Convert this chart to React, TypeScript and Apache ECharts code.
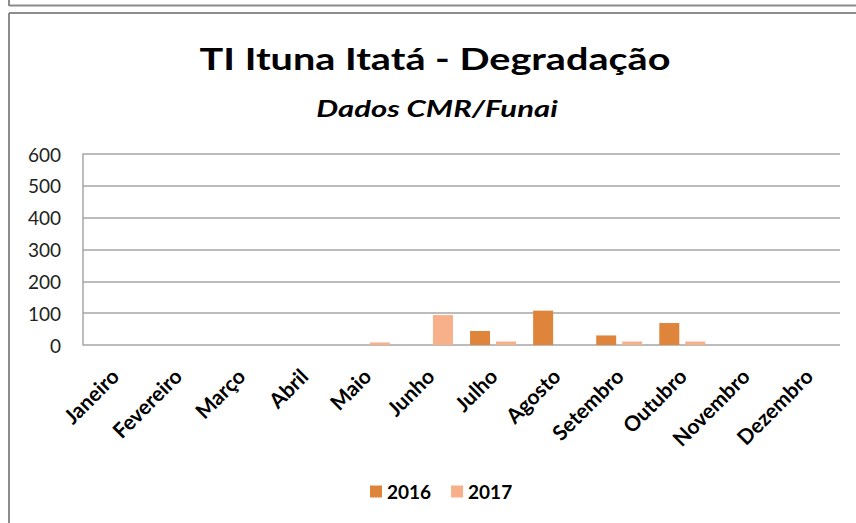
import React, { useEffect, useRef } from "react";
import * as echarts from "echarts";

const months = [
  "Janeiro", "Fevereiro", "Março", "Abril", "Maio", "Junho",
  "Julho", "Agosto", "Setembro", "Outubro", "Novembro", "Dezembro",
];
const series2016: (number | null)[] = [0, 0, 0, 0, 0, 0, 44, 108, 30, 69, 0, 0];
const series2017: (number | null)[] = [0, 0, 0, 0, 8, 94, 11, 0, 11, 11, 0, 0];
const yTicks = { min: 0, max: 600, interval: 100 };
const titleText = "TI Ituna Itatá - Degradação";
const subtitleText = "Dados CMR/Funai";

const FONT = "Lato";

export default function App() {
  const ref = useRef<HTMLDivElement>(null);
  useEffect(() => {
    document.body.style.margin = "0";
    document.body.style.overflow = "hidden";
    if (!ref.current) return;
    const chart = echarts.init(ref.current, null, { renderer: "svg" });
    chart.setOption({
      animation: false,
      backgroundColor: "#ffffff",
      textStyle: { fontFamily: FONT },
      legend: {
        data: ["2016", "2017"],
        bottom: 17,
        left: 365,
        itemWidth: 12,
        itemHeight: 12,
        itemGap: 20,
        icon: "rect",
        textStyle: { fontFamily: FONT, fontSize: 19, fontWeight: "bold", color: "#000" },
      },
      grid: { left: 83, right: 16, top: 154, bottom: 178, containLabel: false },
      xAxis: {
        type: "category",
        data: months,
        axisLine: { show: false },
        axisTick: { show: false },
        axisLabel: {
          rotate: 45,
          interval: 0,
          margin: 27,
          fontFamily: FONT,
          fontSize: 21,
          fontWeight: "bold",
          color: "#000",
        },
      },
      yAxis: {
        type: "value",
        min: yTicks.min,
        max: yTicks.max,
        interval: yTicks.interval,
        axisLine: { show: true, lineStyle: { color: "#a6a6a6", width: 1.5 } },
        axisTick: { show: false },
        splitLine: { lineStyle: { color: "#a6a6a6", width: 1.5 } },
        axisLabel: { margin: 22, fontFamily: FONT, fontSize: 19, color: "#222" },
      },
      series: [
        {
          name: "2016",
          type: "bar",
          data: series2016,
          barWidth: 20,
          barGap: "30%",
          itemStyle: { color: "#DF843B" },
        },
        {
          name: "2017",
          type: "bar",
          data: series2017,
          barWidth: 20,
          itemStyle: { color: "#F8B08A" },
        },
      ],
      graphic: [
        { type: "line", shape: { x1: 9, y1: 5.5, x2: 870, y2: 5.5 }, style: { stroke: "#8c8c8c", lineWidth: 2 } },
        { type: "line", shape: { x1: 9, y1: 0, x2: 9, y2: 6 }, style: { stroke: "#8c8c8c", lineWidth: 2 } },
        { type: "line", shape: { x1: 9, y1: 13, x2: 870, y2: 13 }, style: { stroke: "#8c8c8c", lineWidth: 2 } },
        { type: "line", shape: { x1: 9, y1: 13, x2: 9, y2: 530 }, style: { stroke: "#8c8c8c", lineWidth: 2 } },
        {
          type: "text",
          x: 435,
          y: 58,
          scaleX: 1.32,
          style: {
            text: titleText,
            fontFamily: FONT,
            fontSize: 30,
            fontWeight: "bold",
            fill: "#000",
            align: "center",
            verticalAlign: "middle",
          },
        },
        {
          type: "text",
          x: 437,
          y: 108,
          scaleX: 1.35,
          style: {
            text: subtitleText,
            fontFamily: FONT,
            fontSize: 23,
            fontWeight: "bold",
            fontStyle: "italic",
            fill: "#000",
            align: "center",
            verticalAlign: "middle",
          },
        },
      ],
    });
    return () => chart.dispose();
  }, []);
  return (
    <div
      ref={ref}
      style={{ position: "fixed", left: 0, top: 0, width: 856, height: 523 }}
    />
  );
}
